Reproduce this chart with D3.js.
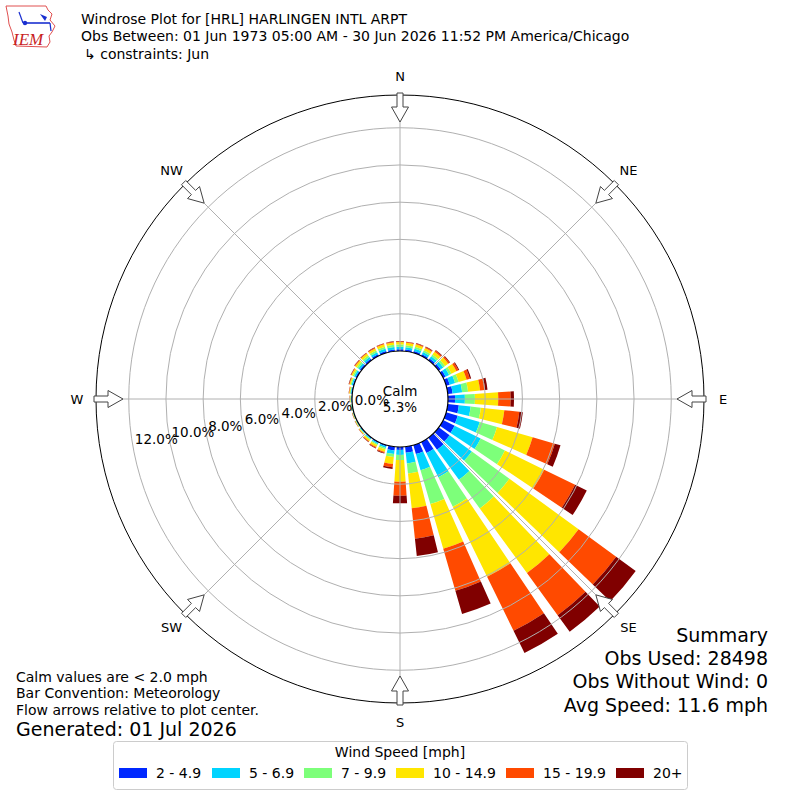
<!DOCTYPE html>
<html>
<head>
<meta charset="utf-8">
<script src="https://cdn.jsdelivr.net/npm/d3@7"></script>
<style>
  body { margin: 0; background: #fff; }
  svg { display: block; font-family: "DejaVu Sans", sans-serif; }
</style>
</head>
<body>
<script>
// wind directions (degrees, bin centers)
const directions = [0, 10, 20, 30, 40, 50, 60, 70, 80, 90, 100, 110, 120, 130, 140, 150, 160, 170,
  180, 190, 200, 210, 220, 230, 240, 250, 260, 270, 280, 290, 300, 310, 320, 330, 340, 350];

// frequency (%) for each speed bin, one value per direction
const spd2to5 = [0.10, 0.10, 0.10, 0.10, 0.12, 0.13, 0.15, 0.20, 0.26, 0.38, 0.60, 0.65, 0.69, 0.72, 0.80, 0.65, 0.50, 0.33,
  0.16, 0.20, 0.07, 0.06, 0.05, 0.04, 0.03, 0.02, 0.02, 0.03, 0.05, 0.06, 0.08, 0.09, 0.10, 0.10, 0.10, 0.10];
const spd5to7 = [0.13, 0.12, 0.13, 0.13, 0.15, 0.17, 0.21, 0.30, 0.52, 0.53, 0.64, 1.23, 1.56, 1.48, 2.00, 1.45, 0.90, 0.57,
  0.27, 0.19, 0.09, 0.07, 0.05, 0.04, 0.03, 0.03, 0.03, 0.03, 0.04, 0.07, 0.09, 0.11, 0.11, 0.12, 0.13, 0.13];
const spd7to10 = [0.12, 0.11, 0.11, 0.11, 0.11, 0.12, 0.14, 0.20, 0.32, 0.54, 0.55, 0.97, 1.45, 2.50, 1.90, 1.77, 1.90, 0.55,
  0.27, 0.17, 0.08, 0.06, 0.05, 0.03, 0.02, 0.02, 0.02, 0.03, 0.04, 0.06, 0.08, 0.10, 0.11, 0.11, 0.12, 0.12];
const spd10to15 = [0.13, 0.13, 0.14, 0.14, 0.19, 0.21, 0.30, 0.45, 0.65, 1.25, 1.27, 1.99, 2.35, 4.60, 4.30, 4.19, 2.50, 1.88,
  1.17, 0.37, 0.14, 0.11, 0.08, 0.04, 0.03, 0.02, 0.02, 0.03, 0.04, 0.06, 0.08, 0.11, 0.12, 0.12, 0.13, 0.13];
const spd15to20 = [0.04, 0.04, 0.05, 0.05, 0.08, 0.09, 0.12, 0.18, 0.27, 0.67, 0.81, 1.24, 1.85, 2.50, 2.80, 3.23, 2.35, 1.64,
  0.75, 0.18, 0.06, 0.05, 0.04, 0.02, 0.01, 0.01, 0.01, 0.01, 0.02, 0.03, 0.03, 0.04, 0.04, 0.04, 0.04, 0.04];
const spd20up = [0.02, 0.02, 0.02, 0.03, 0.03, 0.04, 0.05, 0.07, 0.13, 0.18, 0.19, 0.32, 0.70, 1.30, 1.10, 1.34, 1.30, 0.94,
  0.41, 0.09, 0.03, 0.03, 0.02, 0.01, 0.01, 0.01, 0.01, 0.01, 0.01, 0.02, 0.02, 0.02, 0.02, 0.02, 0.02, 0.02];

const speedLabels = ['2 - 4.9', '5 - 6.9', '7 - 9.9', '10 - 14.9', '15 - 19.9', '20+'];
const speedColors = ['#0028ff', '#00d4ff', '#7dff7a', '#ffe600', '#ff4a00', '#800000'];
const ringTicks = [0, 2, 4, 6, 8, 10, 12];
const compassLabels = ['N', 'NE', 'E', 'SE', 'S', 'SW', 'W', 'NW'];
const compassAngles = [0, 45, 90, 135, 180, 225, 270, 315];

const calmPct = '5.3%';
const titleLines = [
  'Windrose Plot for [HRL] HARLINGEN INTL ARPT',
  'Obs Between: 01 Jun 1973 05:00 AM - 30 Jun 2026 11:52 PM America/Chicago',
  '\u21b3 constraints: Jun'
];
const noteLines = ['Calm values are < 2.0 mph', 'Bar Convention: Meteorology', 'Flow arrows relative to plot center.'];
const summaryLines = ['Summary', 'Obs Used: 28498', 'Obs Without Wind: 0', 'Avg Speed: 11.6 mph'];

const width = 800, height = 800;
const cx = 400, cy = 399;
const rad = Math.PI / 180;

const svg = d3.select('body').append('svg')
  .attr('width', width)
  .attr('height', height);

// table for the stack
const keys = ['s0', 's1', 's2', 's3', 's4', 's5'];
const series = [spd2to5, spd5to7, spd7to10, spd10to15, spd15to20, spd20up];
const table = directions.map((dir, i) => {
  const row = { dir };
  keys.forEach((k, j) => { row[k] = series[j][i]; });
  return row;
});
const stacked = d3.stack().keys(keys)(table);

// radial scale: 0% sits on the calm circle
const r = d3.scaleLinear().domain([0, 13.76]).range([48, 304]);

const plot = svg.append('g').attr('transform', `translate(${cx},${cy})`);

// bars
const halfWidth = 3.9 * rad;
const arc = d3.arc();
stacked.forEach((layer, j) => {
  plot.append('g')
    .selectAll('path')
    .data(layer)
    .enter()
    .append('path')
    .attr('d', d => arc({
      innerRadius: r(d[0]),
      outerRadius: r(d[1]),
      startAngle: d.data.dir * rad - halfWidth,
      endAngle: d.data.dir * rad + halfWidth
    }))
    .attr('fill', speedColors[j]);
});

// grid rings + spokes (drawn over the bars, like matplotlib)
plot.append('g')
  .selectAll('circle')
  .data(ringTicks.filter(t => t > 0))
  .enter()
  .append('circle')
  .attr('r', d => r(d))
  .attr('fill', 'none')
  .attr('stroke', '#b0b0b0')
  .attr('stroke-width', 1);

plot.append('g')
  .selectAll('line')
  .data(compassAngles)
  .enter()
  .append('line')
  .attr('x1', d => r(0) * Math.sin(d * rad))
  .attr('y1', d => -r(0) * Math.cos(d * rad))
  .attr('x2', d => r.range()[1] * Math.sin(d * rad))
  .attr('y2', d => -r.range()[1] * Math.cos(d * rad))
  .attr('stroke', '#b0b0b0')
  .attr('stroke-width', 1);

// outer frame
plot.append('circle')
  .attr('r', r.range()[1])
  .attr('fill', 'none')
  .attr('stroke', '#000')
  .attr('stroke-width', 1);

// calm circle
plot.append('circle')
  .attr('r', r(0))
  .attr('fill', '#fff')
  .attr('stroke', '#000')
  .attr('stroke-width', 1.2);

plot.append('text')
  .attr('x', 0).attr('y', -8)
  .attr('text-anchor', 'middle')
  .attr('dy', '0.35em')
  .style('font-size', '13.5px')
  .text('Calm');
plot.append('text')
  .attr('x', 0).attr('y', 8)
  .attr('text-anchor', 'middle')
  .attr('dy', '0.35em')
  .style('font-size', '13.5px')
  .text(calmPct);

// ring labels, along a line a bit below west
plot.append('g')
  .selectAll('text')
  .data(ringTicks)
  .enter()
  .append('text')
  .attr('x', d => -r(d) * 0.985 + 2)
  .attr('y', d => r(d) * 0.175 - 7.4)
  .attr('dy', '0.35em')
  .style('font-size', '13.5px')
  .text(d => d.toFixed(1) + '%');

// flow arrows at the frame, pointing to the center
const arrowPts = [[306, -3], [292, -3], [292, -8.5], [277, 0], [292, 8.5], [292, 3], [306, 3]];
plot.append('g')
  .selectAll('polygon')
  .data(compassAngles)
  .enter()
  .append('polygon')
  .attr('points', d => arrowPts.map(([rr, w]) => {
    const a = d * rad;
    return [rr * Math.sin(a) + w * Math.cos(a), -rr * Math.cos(a) + w * Math.sin(a)].join(',');
  }).join(' '))
  .attr('fill', '#fff')
  .attr('stroke', '#444')
  .attr('stroke-width', 1);

// compass labels
plot.append('g')
  .selectAll('text')
  .data(compassLabels)
  .enter()
  .append('text')
  .attr('x', (d, i) => 323 * Math.sin(compassAngles[i] * rad))
  .attr('y', (d, i) => -323 * Math.cos(compassAngles[i] * rad))
  .attr('text-anchor', 'middle')
  .attr('dy', '0.35em')
  .style('font-size', '13px')
  .text(d => d);

// header
const logo = svg.append('g');
logo.append('path')
  .attr('d', 'M6,6 L46,6 L48,10 L52,14 L50,20 L55,26 L52,32 L49,36 L50,42 L47,47 L16,46 L14,40 L12,32 L9,24 L8,16 Z')
  .attr('fill', 'none')
  .attr('stroke', '#e05050')
  .attr('stroke-width', 1);
logo.append('line').attr('x1', 23).attr('y1', 23).attr('x2', 50).attr('y2', 23)
  .attr('stroke', '#1a2fd0').attr('stroke-width', 1.6);
logo.append('line').attr('x1', 19).attr('y1', 12).attr('x2', 23).attr('y2', 23)
  .attr('stroke', '#1a2fd0').attr('stroke-width', 1.2);
logo.append('circle').attr('cx', 25).attr('cy', 23).attr('r', 2.2).attr('fill', '#1a2fd0');
logo.append('path').attr('d', 'M40,14 L47,17 L45,21 Z').attr('fill', '#1a2fd0');
logo.append('line').attr('x1', 50).attr('y1', 23).attr('x2', 51).attr('y2', 31)
  .attr('stroke', '#1a2fd0').attr('stroke-width', 1.2);
logo.append('text')
  .attr('x', 13).attr('y', 45)
  .style('font-family', '"Liberation Serif", serif')
  .style('font-style', 'italic')
  .style('font-size', '17px')
  .attr('fill', '#c81e1e')
  .text('IEM');

svg.append('g')
  .selectAll('text')
  .data(titleLines)
  .enter()
  .append('text')
  .attr('x', (d, i) => i === 2 ? 84 : 81)
  .attr('y', (d, i) => 19 + i * 17.5)
  .attr('dy', '0.35em')
  .style('font-size', '14px')
  .text(d => d);

// notes bottom left
svg.append('g')
  .selectAll('text')
  .data(noteLines)
  .enter()
  .append('text')
  .attr('x', 16)
  .attr('y', (d, i) => 677 + i * 16.5)
  .attr('dy', '0.35em')
  .style('font-size', '14px')
  .text(d => d);

svg.append('text')
  .attr('x', 16).attr('y', 729)
  .attr('dy', '0.35em')
  .style('font-size', '19px')
  .text('Generated: 01 Jul 2026');

// summary bottom right
svg.append('g')
  .selectAll('text')
  .data(summaryLines)
  .enter()
  .append('text')
  .attr('x', 768)
  .attr('y', (d, i) => 635 + i * 23.3)
  .attr('text-anchor', 'end')
  .attr('dy', '0.35em')
  .style('font-size', '19px')
  .text(d => d);

// legend
const legend = svg.append('g');
legend.append('rect')
  .attr('x', 113.5).attr('y', 741.5)
  .attr('width', 574).attr('height', 48)
  .attr('rx', 3)
  .attr('fill', '#fff')
  .attr('stroke', '#cccccc');
legend.append('text')
  .attr('x', 400).attr('y', 752)
  .attr('text-anchor', 'middle')
  .attr('dy', '0.35em')
  .style('font-size', '14px')
  .text('Wind Speed [mph]');

const legendX = [119, 212, 304, 396, 506, 616];
const items = legend.selectAll('.legend-item')
  .data(speedLabels)
  .enter()
  .append('g')
  .attr('class', 'legend-item')
  .attr('transform', (d, i) => `translate(${legendX[i]}, 773)`);
items.append('rect')
  .attr('x', 0).attr('y', -5)
  .attr('width', 28).attr('height', 10)
  .attr('fill', (d, i) => speedColors[i]);
items.append('text')
  .attr('x', 37)
  .attr('dy', '0.35em')
  .style('font-size', '14px')
  .text(d => d);
</script>
</body>
</html>
